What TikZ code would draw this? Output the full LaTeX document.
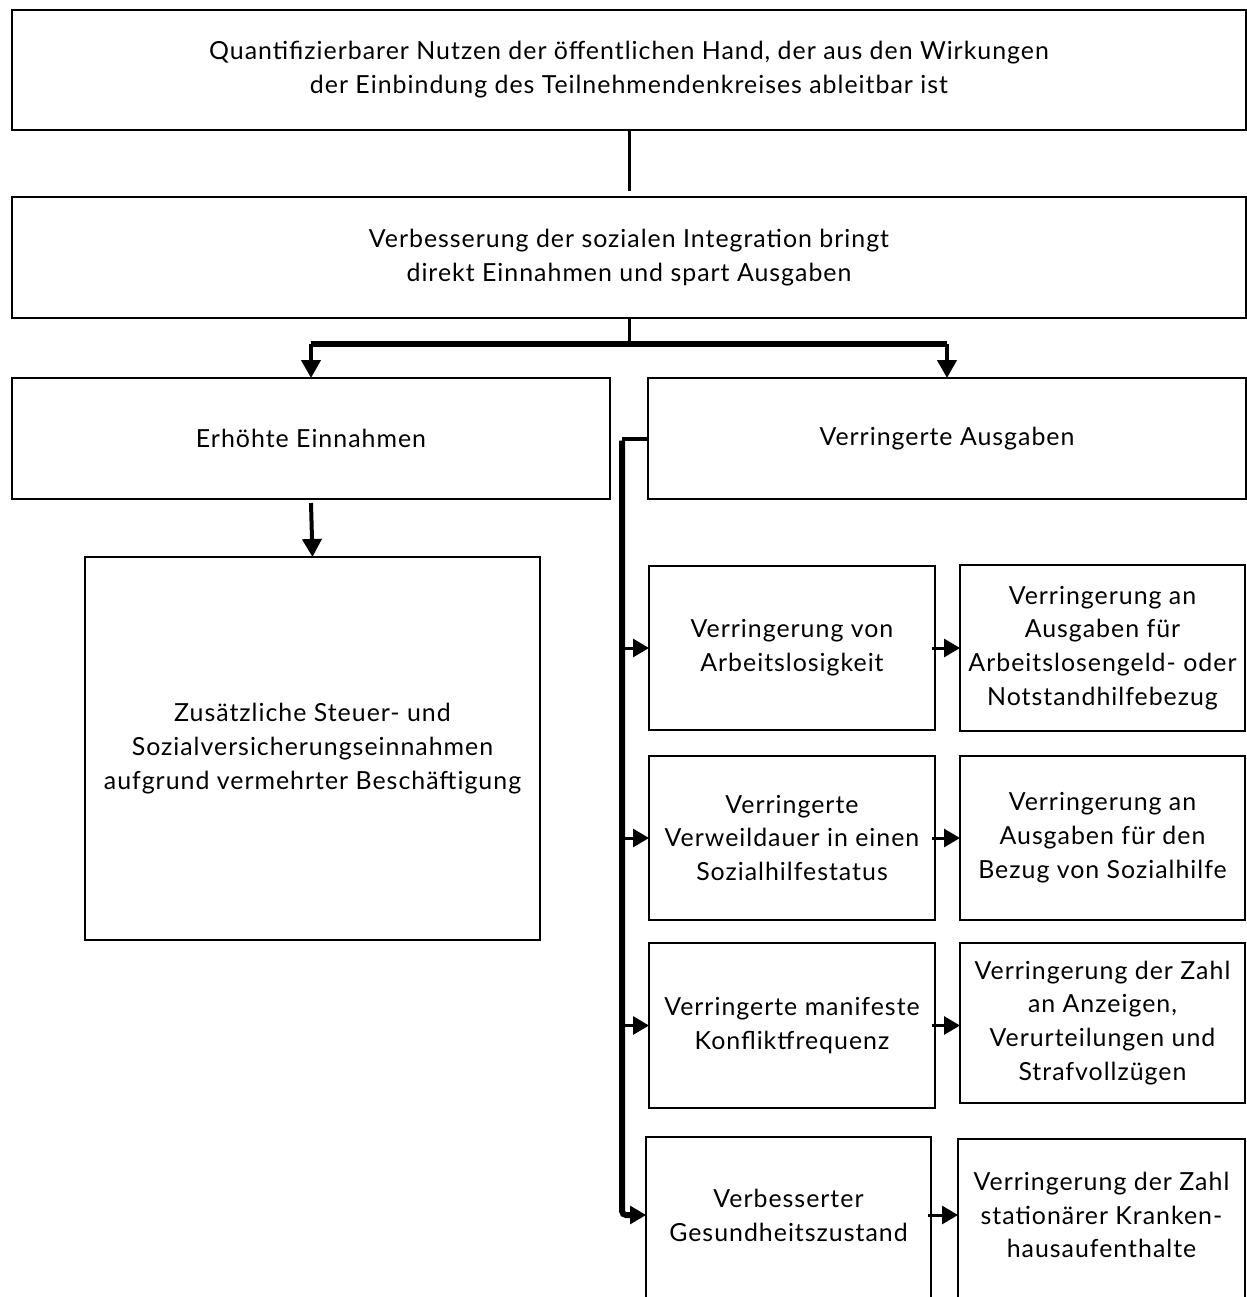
\documentclass[tikz,border=0pt]{standalone}
\usepackage{fontspec}
\setmainfont[LetterSpace=4]{Lato}
\usetikzlibrary{arrows.meta}
\begin{document}
\begin{tikzpicture}[x=1bp,y=-1bp,
  box/.style={draw, line width=1.6bp, align=center, inner sep=0pt, outer sep=0pt,
    font=\fontsize{25}{34}\selectfont},
  txt/.style={align=center, inner sep=0pt, outer sep=0pt, font=\fontsize{25}{34}\selectfont},
  tipA/.style={-{Triangle[length=18bp,width=19bp]}},
  tipB/.style={-{Triangle[length=16bp,width=18bp]}},
  heavy/.style={line width=5.5bp},
  med/.style={line width=3bp}]
\useasboundingbox (0,0) rectangle (1247,1297);
\clip (0,0) rectangle (1247,1297);

\node[box, minimum width=1234bp, minimum height=120bp] (top) at (629,70)
  {Quantifizierbarer Nutzen der öffentlichen Hand, der aus den Wirkungen\\der Einbindung des Teilnehmendenkreises ableitbar ist};
\node[box, minimum width=1234bp, minimum height=121bp] (b2) at (629,257.5)
  {Verbesserung der sozialen Integration bringt\\direkt Einnahmen und spart Ausgaben};
\node[box, minimum width=598bp, minimum height=121bp] (ein) at (311,438.5) {Erhöhte Einnahmen};
\node[box, minimum width=598bp, minimum height=121bp] (aus) at (947,438.5) {Verringerte Ausgaben};
\node[box, minimum width=455bp, minimum height=383bp] (zus) at (312.5,748.5)
  {Zusätzliche Steuer- und\\Sozialversicherungseinnahmen\\aufgrund vermehrter Beschäftigung};

\node[box, minimum width=286bp, minimum height=164bp] (m1) at (792,648) {Verringerung von\\Arbeitslosigkeit};
\node[box, minimum width=286bp, minimum height=164bp] (m2) at (792,838) {Verringerte\\Verweildauer in einen\\Sozialhilfestatus};
\node[box, minimum width=286bp, minimum height=165bp] (m3) at (792,1025.5) {Verringerte manifeste\\Konfliktfrequenz};
\node[box, minimum width=285bp, minimum height=178bp] (m4) at (788.5,1226) {};
\node[txt] (m4t) at (788.5,1215) {Verbesserter\\Gesundheitszustand};

\node[box, minimum width=285bp, minimum height=166bp] (r1) at (1102.5,648)
  {Verringerung an\\Ausgaben für\\Arbeitslosengeld- oder\\Notstandhilfebezug};
\node[box, minimum width=285bp, minimum height=164bp] (r2) at (1102.5,838)
  {Verringerung an\\Ausgaben für den\\Bezug von Sozialhilfe};
\node[box, minimum width=285bp, minimum height=160bp] (r3) at (1102.5,1023)
  {Verringerung der Zahl\\an Anzeigen,\\Verurteilungen und\\Strafvollzügen};
\node[box, minimum width=287bp, minimum height=176bp] (r4) at (1101.5,1227) {};
\node[txt] (r4t) at (1101.5,1215)
  {Verringerung der Zahl\\stationärer Kranken-\\hausaufenthalte};

% top connector
\draw[med] (top.south) -- ++(0,61);
% split
\coordinate (j) at (629,344);
\draw[med] (b2.south) -- (j);
\draw[heavy, rounded corners=3bp] (ein.north) ++(0,-34) coordinate (jl) -- (aus.north |- jl);
\draw[line width=4bp, tipA] (jl) -- (ein.north);
\draw[line width=4bp, tipA] (aus.north |- jl) -- (aus.north);
% left arrow
\draw[line width=4bp, tipA] ([yshift=-4bp]ein.south) -- (zus.north);
% spine
\coordinate (sp) at (622,438.5);
\draw[line width=4bp] (aus.west) -- (sp);
\draw[line width=6bp, rounded corners=4bp] ([yshift=-2bp]sp) -- (sp |- m4t) -- ++(8,0);
\draw[med, tipB] (sp |- m1.west) -- (m1.west);
\draw[med, tipB] (sp |- m2.west) -- (m2.west);
\draw[med, tipB] (sp |- m3.west) -- (m3.west);
\draw[med, tipB] ([xshift=6bp]sp |- m4t) -- (m4.west |- m4t);
% middle to right
\draw[med, tipB] ([xshift=-3bp]m1.east) -- (r1.west |- m1.east);
\draw[med, tipB] ([xshift=-3bp]m2.east) -- (r2.west |- m2.east);
\draw[med, tipB] ([xshift=-3bp]m3.east) -- (r3.west |- m3.east);
\draw[med, tipB] ([xshift=-3bp]m4.east |- m4t) -- (r4.west |- m4t);
\end{tikzpicture}
\end{document}
